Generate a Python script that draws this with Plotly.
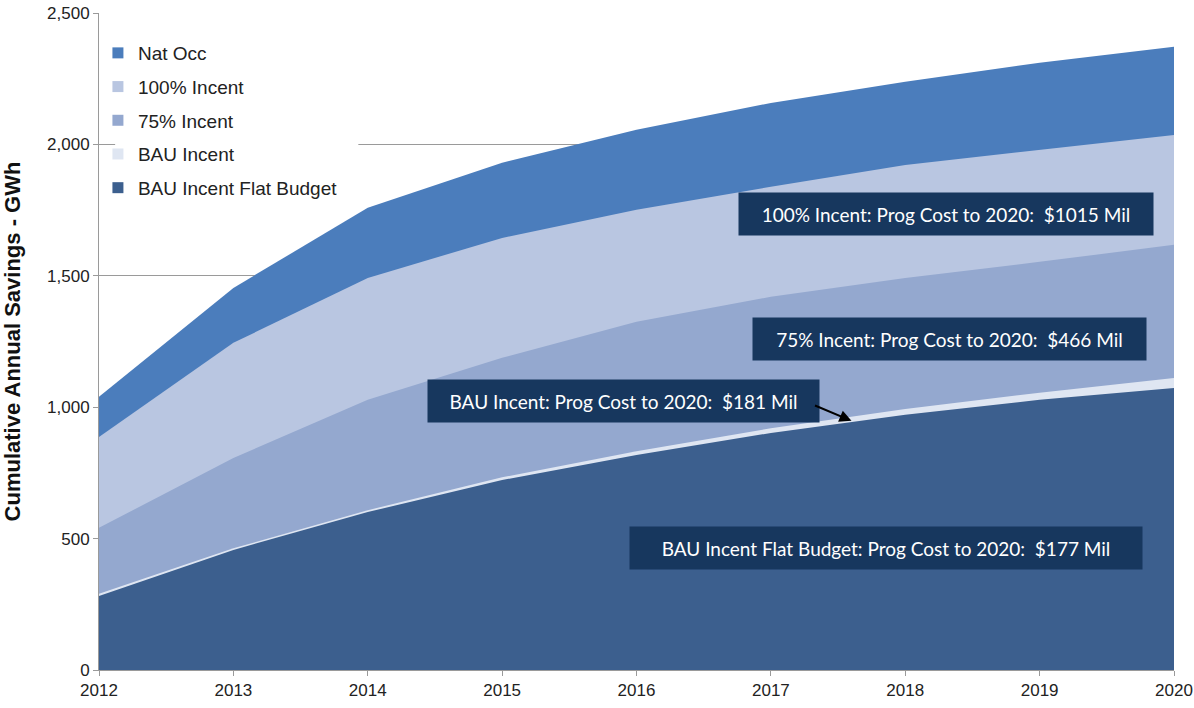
import plotly.graph_objects as go

# Cumulative annual savings (GWh) by scenario
years = [2012, 2013, 2014, 2015, 2016, 2017, 2018, 2019, 2020]
nat_occ = [1040, 1454, 1759, 1930, 2056, 2158, 2238, 2311, 2372]
incent_100 = [887, 1245, 1492, 1644, 1751, 1839, 1922, 1979, 2036]
incent_75 = [541, 807, 1028, 1188, 1325, 1420, 1492, 1553, 1618]
bau_incent = [290, 463, 608, 733, 832, 920, 993, 1055, 1111]
bau_flat = [282, 457, 601, 723, 818, 902, 971, 1028, 1073]

series_names = ["Nat Occ", "100% Incent", "75% Incent", "BAU Incent", "BAU Incent Flat Budget"]
series_values = [nat_occ, incent_100, incent_75, bau_incent, bau_flat]
series_colors = ["#4B7DBC", "#B9C6E1", "#94A8CF", "#DFE6F2", "#3C5F8E"]

y_ticks = [0, 500, 1000, 1500, 2000, 2500]

# Program cost call-outs: (text, x, y, width)
callouts = [
    ("100% Incent: Prog Cost to 2020:  $1015 Mil", 2018.30, 1736, 414),
    ("75% Incent: Prog Cost to 2020:  $466 Mil", 2018.33, 1260, 393),
    ("BAU Incent: Prog Cost to 2020:  $181 Mil", 2015.90, 1024, 391),
    ("BAU Incent Flat Budget: Prog Cost to 2020:  $177 Mil", 2017.86, 464, 512),
]

fig = go.Figure()

# Overlapping areas, largest scenario first
for name, vals, col in zip(series_names, series_values, series_colors):
    fig.add_trace(go.Scatter(
        x=years, y=vals, mode="lines", fill="tozeroy",
        line=dict(width=0, color=col), fillcolor=col,
        name=name, showlegend=False, hoverinfo="x+y+name",
    ))

# Square legend swatches
for i, (name, col) in enumerate(zip(series_names, series_colors)):
    fig.add_trace(go.Scatter(
        x=[None], y=[None], mode="markers",
        marker=dict(symbol="square", size=11, color=col),
        name=name, legendgroup=f"g{i}", showlegend=True,
    ))

annotations = []
for text, x, y, w in callouts:
    annotations.append(dict(
        x=x, y=y, xref="x", yref="y", text=text, showarrow=False,
        width=w, height=42, bgcolor="#17375E", borderpad=0,
        font=dict(family="Lato", size=19, color="white"),
        xanchor="center", yanchor="middle", align="center",
    ))

# Pointer from the BAU Incent call-out to its thin band
annotations.append(dict(
    x=2017.6, y=948, xref="x", yref="y", text="", showarrow=True,
    ax=-38, ay=-16, arrowhead=2, arrowsize=1.2, arrowwidth=2, arrowcolor="black",
))

# White legend panel that masks the gridlines but leaves the axis line visible
legend_panel = dict(
    type="rect", xref="x", yref="y", layer="between",
    x0=2012.12, x1=2013.93, y0=1835, y1=2400,
    fillcolor="white", line=dict(width=0),
)

fig.update_layout(
    width=1194, height=708,
    margin=dict(l=99, r=20, t=13, b=38, autoexpand=False),
    paper_bgcolor="white", plot_bgcolor="white",
    font=dict(family="Liberation Sans", size=17, color="#222222"),
    showlegend=True,
    legend=dict(
        x=-0.001, y=0.968, xanchor="left", yanchor="top",
        bgcolor="rgba(0,0,0,0)", font=dict(family="Liberation Sans", size=19, color="#222222"),
        tracegroupgap=6, itemwidth=30,
    ),
    annotations=annotations,
    shapes=[legend_panel],
)

fig.update_xaxes(
    range=[2012, 2020], tickmode="array", tickvals=years,
    showgrid=False, showline=True, linecolor="#9A9A9A", linewidth=1,
    ticks="outside", ticklen=5, tickcolor="#9A9A9A",
    tickfont=dict(family="Liberation Sans", size=17, color="#222222"),
    zeroline=False,
)
fig.update_yaxes(
    range=[0, 2500], tickmode="array", tickvals=y_ticks, tickformat=",",
    showgrid=True, gridcolor="#9A9A9A", gridwidth=1,
    showline=True, linecolor="#9A9A9A", linewidth=1,
    ticks="outside", ticklen=5, tickcolor="#9A9A9A",
    tickfont=dict(family="Liberation Sans", size=17, color="#222222"),
    title=dict(text="<b>Cumulative Annual Savings - GWh</b>",
               font=dict(family="Liberation Sans", size=22, color="#111111"), standoff=22),
    zeroline=False,
)

fig.write_html("out.html")
